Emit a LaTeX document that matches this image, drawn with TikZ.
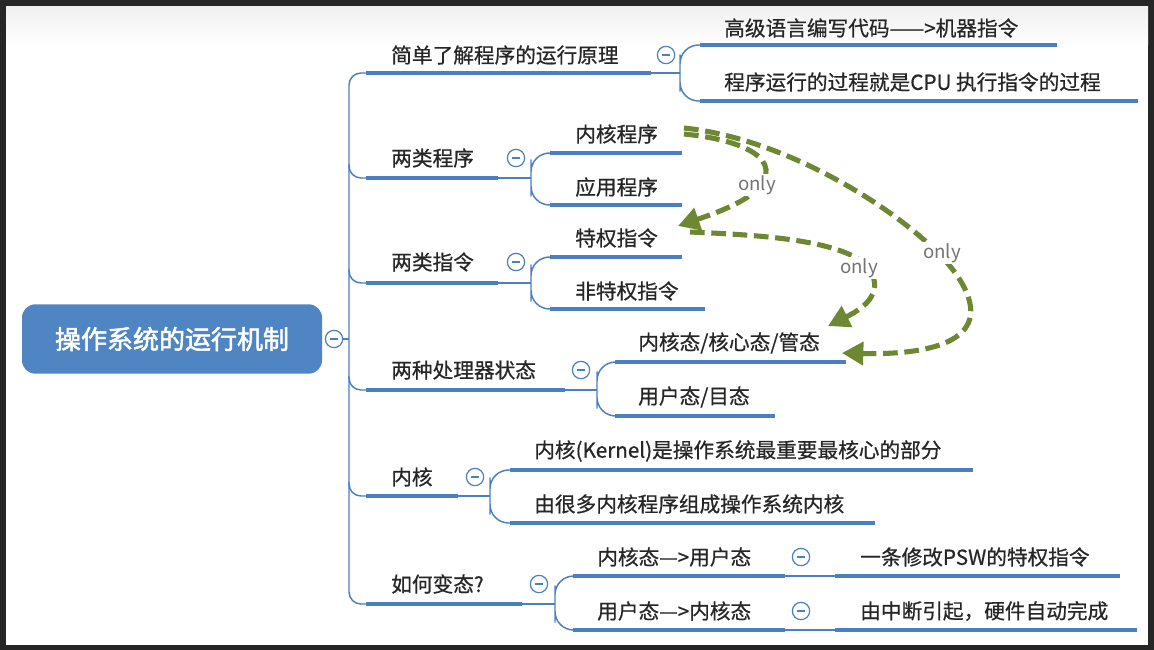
\documentclass[tikz,border=0pt]{standalone}
\usepackage{fontspec}
\setmainfont{Noto Sans CJK SC}
\usetikzlibrary{arrows.meta}
\definecolor{mblue}{RGB}{74,127,193}
\definecolor{rootblue}{RGB}{80,133,196}
\definecolor{olive}{RGB}{110,135,50}
\tikzset{
  lab/.style={anchor=west,inner sep=0pt,font=\addfontfeature{FakeBold=0.6}\fontsize{15.5}{17}\selectfont,text=black!85},
  uline/.style={draw=mblue,line width=3pt},
  conn/.style={draw=mblue,line width=1.1pt,rounded corners=9pt},
  tog/.style={circle,draw=mblue,line width=0.9pt,fill=white,minimum size=13pt,inner sep=0pt,
    path picture={\draw[mblue,line width=0.9pt] ([xshift=-3pt]path picture bounding box.center)--([xshift=3pt]path picture bounding box.center);}},
  garrow/.style={draw=olive,line width=3.8pt,dash pattern=on 11pt off 5pt,-{Triangle[length=16pt,width=17pt]}},
  onlylab/.style={fill=white,inner sep=1pt,font=\itshape\fontsize{14}{16}\selectfont,text=black!55}
}
\begin{document}
\begin{tikzpicture}[x=0.75pt,y=-0.75pt]
\fill[black!85] (0,0) rectangle (1154,650);
\fill[white] (6,6) rectangle (1148,645);
\shade[top color=black!6,bottom color=white] (6,6) rectangle (1148,45);
\useasboundingbox (0,0) rectangle (1154,650);
% root
\node[fill=rootblue,rounded corners=10pt,minimum width=225pt,minimum height=52pt,text=white,font=\addfontfeature{FakeBold=2}\fontsize{19.5}{21}\selectfont] (root) at (172,339) {操作系统的运行机制};
\node[tog] (t0) at (334,339) {};
\coordinate (tr) at (349,339);
\draw[conn] (t0) -- (tr);
% trunk
\draw[conn] (366,73) -| (349,604) -- (366,604);
\foreach \y in {178,283,390,496} \draw[conn] (349,\y-14) |- (366,\y);
% level 1
\node[lab] (a) at (391,55) {简单了解程序的运行原理};
\draw[uline] (366,73) -- (651,73);
\node[lab] (b) at (391,158) {两类程序};
\draw[uline] (366,178) -- (498,178);
\node[lab] (c) at (391,262) {两类指令};
\draw[uline] (366,283) -- (498,283);
\node[lab] (d) at (391,370) {两种处理器状态};
\draw[uline] (366,390) -- (565,390);
\node[lab] (e) at (391,477) {内核};
\draw[uline] (366,496) -- (458,496);
\node[lab] (f) at (391,584) {如何变态?};
\draw[uline] (366,604) -- (522,604);
% toggles
\node[tog] (ta) at (666,55) {};
\node[tog] (tb) at (516,158) {};
\node[tog] (tc) at (516,262) {};
\node[tog] (td) at (581,370) {};
\node[tog] (te) at (475,477) {};
\node[tog] (tf) at (539,584) {};
\draw[conn] (651,73) -- (680,73);
\draw[conn] (498,178) -- (531,178);
\draw[conn] (498,283) -- (531,283);
\draw[conn] (565,390) -- (597,390);
\draw[conn] (458,496) -- (490,496);
\draw[conn] (522,604) -- (555,604);
% forks
\draw[conn,rounded corners=14pt] (700,45) -| (680,73) |- (700,101);
\draw[conn,rounded corners=14pt] (550,153) -| (531,178) |- (550,205);
\draw[conn,rounded corners=14pt] (550,257) -| (531,283) |- (550,309);
\draw[conn,rounded corners=14pt] (615,362) -| (597,390) |- (615,416);
\draw[conn,rounded corners=14pt] (510,470) -| (490,496) |- (510,523);
\draw[conn,rounded corners=14pt] (573,576) -| (555,604) |- (573,630);
% level 2
\node[lab] (a1) at (724,28) {高级语言编写代码——>机器指令};
\draw[uline] (700,45) -- (1057,45);
\node[lab] (a2) at (724,82) {程序运行的过程就是CPU 执行指令的过程};
\draw[uline] (700,101) -- (1138,101);
\node[lab] (b1) at (575,134) {内核程序};
\draw[uline] (550,153) -- (682,153);
\node[lab] (b2) at (575,187) {应用程序};
\draw[uline] (550,205) -- (682,205);
\node[lab] (c1) at (575,238) {特权指令};
\draw[uline] (550,257) -- (682,257);
\node[lab] (c2) at (575,291) {非特权指令};
\draw[uline] (550,309) -- (705,309);
\node[lab] (d1) at (638,343) {内核态/核心态/管态};
\draw[uline] (615,362) -- (846,362);
\node[lab] (d2) at (638,397) {用户态/目态};
\draw[uline] (615,416) -- (775,416);
\node[lab] (e1) at (534,451) {内核(Kernel)是操作系统最重要最核心的部分};
\draw[uline] (510,470) -- (973,470);
\node[lab] (e2) at (534,504) {由很多内核程序组成操作系统内核};
\draw[uline] (510,523) -- (875,523);
\node[lab] (f1) at (597,557) {内核态—>用户态};
\draw[uline] (573,576) -- (785,576);
\node[lab] (f2) at (597,611) {用户态—>内核态};
\draw[uline] (573,630) -- (785,630);
\node[tog] (tf1) at (801,557) {};
\node[tog] (tf2) at (801,611) {};
\draw[conn] (785,576) -- (835,576);
\draw[conn] (785,630) -- (835,630);
\node[lab] (g1) at (860,557) {一条修改PSW的特权指令};
\draw[uline] (835,576) -- (1120,576);
\node[lab] (g2) at (860,611) {由中断引起，硬件自动完成};
\draw[uline] (835,630) -- (1137,630);
% green arrows
\coordinate (s1) at (684,134);
\coordinate (s2) at (684,128);
\coordinate (s3) at (690,232);
\coordinate (e1t) at (678,226);
\coordinate (e2t) at (842,353);
\coordinate (e3t) at (828,326);
\draw[garrow] (s1) .. controls (745,140) and (785,160) .. (757,190) .. controls (740,205) and (710,215) .. (e1t);
\draw[garrow] (s2) .. controls (800,140) and (930,230) .. (960,280) .. controls (1000,345) and (920,355) .. (e2t);
\draw[garrow] (s3) .. controls (760,235) and (850,240) .. (870,270) .. controls (885,295) and (860,310) .. (e3t);
\node[onlylab] (o1) at (757,185) {only};
\node[onlylab] (o2) at (942,253) {only};
\node[onlylab] (o3) at (859,268) {only};
\end{tikzpicture}
\end{document}
